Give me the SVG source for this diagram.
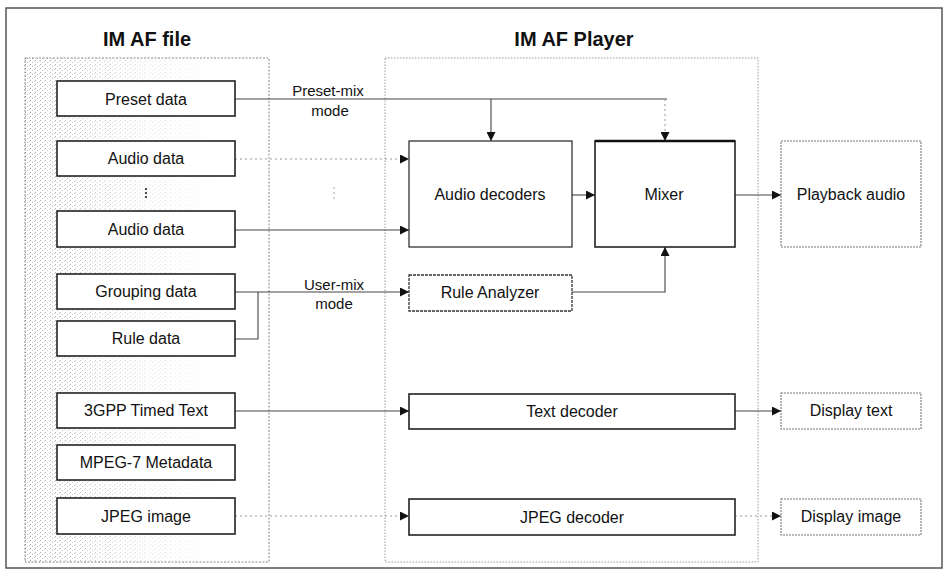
<svg xmlns="http://www.w3.org/2000/svg" width="944" height="580" viewBox="0 0 944 580">
  <style>
    text { font-family: "Liberation Sans", Arial, sans-serif; fill: #111; }
    .title { font-size: 20px; font-weight: bold; text-anchor: middle; }
    .lbl { font-size: 16px; text-anchor: middle; dominant-baseline: central; }
    .note { font-size: 15px; text-anchor: middle; }
    .box { fill: #fff; stroke: #222; stroke-width: 1.6; }
    .dec { fill: #fff; stroke: #333; stroke-width: 1.3; }
    .soft { fill: #fff; stroke: #777; stroke-width: 1.1; stroke-dasharray: 2 1; }
    .frame { fill: none; stroke: #555; stroke-width: 1.5; }
    .cont { fill: none; stroke: #888; stroke-width: 1; stroke-dasharray: 2 1.5; }
    .ln { fill: none; stroke: #444; stroke-width: 1.1; }
    .faint { fill: none; stroke: #999; stroke-width: 1; stroke-dasharray: 2 3; }
    .arr { marker-end: url(#tip); }
  </style>
  <defs>
    <marker id="tip" viewBox="0 0 10 10" refX="10" refY="5" markerWidth="9" markerHeight="9" markerUnits="userSpaceOnUse" orient="auto">
      <path d="M0,0 L10,5 L0,10 z" fill="#111"/>
    </marker>
    <pattern id="stip" width="5" height="4" patternUnits="userSpaceOnUse">
      <rect x="0" y="0" width="1" height="1" fill="#8a8a8a"/>
      <rect x="2" y="2" width="1" height="1" fill="#aaa"/>
      <rect x="4" y="1" width="1" height="1" fill="#bbb"/>
    </pattern>
    <linearGradient id="fade" x1="0" y1="0" x2="1" y2="0">
      <stop offset="0" stop-color="#fff" stop-opacity="0.8"/>
      <stop offset="0.4" stop-color="#fff" stop-opacity="0.35"/>
      <stop offset="0.8" stop-color="#fff" stop-opacity="0"/>
    </linearGradient>
    <mask id="fadeMask">
      <rect x="25" y="58" width="244" height="504" fill="url(#fade)"/>
    </mask>
  </defs>

  <!-- outer frame -->
  <rect class="frame" x="6" y="8" width="936" height="560"/>

  <!-- titles -->
  <text class="title" x="147" y="46">IM AF file</text>
  <text class="title" x="574" y="46">IM AF Player</text>

  <!-- file container with stippled shading -->
  <g id="file-container">
    <rect x="25" y="58" width="244" height="504" fill="url(#stip)" mask="url(#fadeMask)"/>
    <rect class="cont" x="25" y="58" width="244" height="504"/>
  </g>

  <!-- player container -->
  <g id="player-container">
    <rect x="385" y="58" width="373" height="504" fill="none" stroke="#999" stroke-width="1" stroke-dasharray="1.5 1.5"/>
  </g>

  <!-- connectors -->
  <g id="connectors">
    <!-- preset-mix -->
    <path class="ln" d="M235,99 H667"/>
    <path class="ln arr" d="M491,99 V141"/>
    <path class="faint arr" d="M665,99 V141"/>
    <!-- audio data -->
    <path class="faint arr" d="M235,159 H409"/>
    <path class="ln arr" d="M235,230 H409"/>
    <!-- decoders to mixer, mixer to playback -->
    <path class="ln arr" d="M572,195 H595"/>
    <path class="ln arr" d="M735,195 H781"/>
    <!-- user-mix -->
    <path class="ln arr" d="M235,292 H409"/>
    <path class="ln" d="M235,339 H258 V292"/>
    <path class="ln arr" d="M572,292 H665 V247"/>
    <!-- timed text -->
    <path class="ln arr" d="M235,411 H409"/>
    <path class="ln arr" d="M735,411 H781"/>
    <!-- jpeg -->
    <path class="faint arr" d="M235,516 H409"/>
    <path class="faint arr" d="M735,516 H781"/>
  </g>

  <!-- mode labels -->
  <text class="note" x="328" y="96">Preset-mix</text>
  <text class="note" x="330" y="116">mode</text>
  <text class="note" x="334" y="290">User-mix</text>
  <text class="note" x="334" y="309">mode</text>

  <!-- vertical ellipses -->
  <g id="ellipsis-file" fill="#222">
    <circle cx="146" cy="189" r="1.1"/>
    <circle cx="146" cy="193" r="1.1"/>
    <circle cx="146" cy="197" r="1.1"/>
  </g>
  <g id="ellipsis-player" fill="#999">
    <circle cx="334" cy="188" r="0.8"/>
    <circle cx="334" cy="193" r="0.8"/>
    <circle cx="334" cy="198" r="0.8"/>
  </g>

  <!-- file items -->
  <g id="preset-data"><rect class="box" x="57" y="81" width="178" height="35"/><text class="lbl" x="146" y="99">Preset data</text></g>
  <g id="audio-data-1"><rect class="box" x="57" y="141" width="178" height="35"/><text class="lbl" x="146" y="158">Audio data</text></g>
  <g id="audio-data-2"><rect class="box" x="57" y="211" width="178" height="36"/><text class="lbl" x="146" y="229">Audio data</text></g>
  <g id="grouping-data"><rect class="box" x="57" y="274" width="178" height="35"/><text class="lbl" x="146" y="291">Grouping data</text></g>
  <g id="rule-data"><rect class="box" x="57" y="321" width="178" height="35"/><text class="lbl" x="146" y="338">Rule data</text></g>
  <g id="timed-text"><rect class="box" x="57" y="393" width="178" height="35"/><text class="lbl" x="146" y="410">3GPP Timed Text</text></g>
  <g id="mpeg7-metadata"><rect class="box" x="57" y="445" width="178" height="35"/><text class="lbl" x="146" y="462">MPEG-7 Metadata</text></g>
  <g id="jpeg-image"><rect class="box" x="57" y="498" width="178" height="36"/><text class="lbl" x="146" y="516">JPEG image</text></g>

  <!-- player components -->
  <g id="audio-decoders"><rect class="dec" x="409" y="141" width="163" height="106"/><text class="lbl" x="490" y="194">Audio decoders</text></g>
  <g id="mixer"><rect class="box" x="595" y="141" width="140" height="106"/><path d="M595,141 H735" stroke="#111" stroke-width="2.4"/><text class="lbl" x="664" y="194">Mixer</text></g>
  <g id="rule-analyzer"><rect class="dec" x="409" y="275" width="163" height="36" stroke-dasharray="3 1"/><text class="lbl" x="490" y="292">Rule Analyzer</text></g>
  <g id="text-decoder"><rect class="box" x="409" y="394" width="326" height="35"/><text class="lbl" x="572" y="411">Text decoder</text></g>
  <g id="jpeg-decoder"><rect class="box" x="409" y="499" width="326" height="36"/><text class="lbl" x="572" y="517">JPEG decoder</text></g>

  <!-- outputs -->
  <g id="playback-audio"><rect class="soft" x="781" y="141" width="140" height="106"/><text class="lbl" x="851" y="194">Playback audio</text></g>
  <g id="display-text"><rect class="soft" x="781" y="393" width="140" height="36"/><text class="lbl" x="851" y="410">Display text</text></g>
  <g id="display-image"><rect class="soft" x="781" y="499" width="140" height="36"/><text class="lbl" x="851" y="516">Display image</text></g>
</svg>
